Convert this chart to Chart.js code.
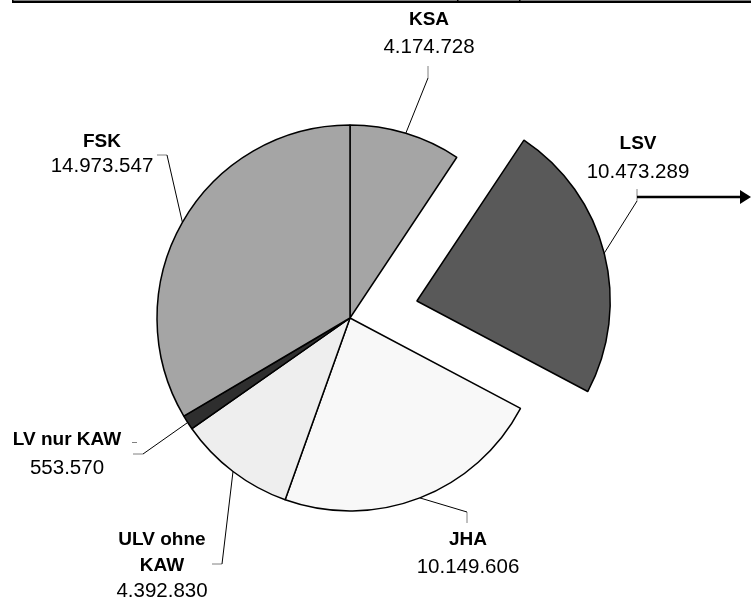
<!DOCTYPE html>
<html>
<head>
<meta charset="utf-8">
<script src="https://cdn.jsdelivr.net/npm/chart.js@4.4.0/dist/chart.umd.min.js"></script>
<style>
  html, body { margin: 0; padding: 0; background: #fff; }
  canvas { display: block; }
</style>
</head>
<body>
<canvas id="pie" width="751" height="601"></canvas>
<script>
// data
const categories = ['KSA', 'LSV', 'JHA', 'ULV ohne KAW', 'LV nur KAW', 'FSK'];
const values = [4174728, 10473289, 10149606, 4392830, 553570, 14973547];
const sliceColors = ['#a5a5a5', '#595959', '#f8f8f8', '#eeeeee', '#2e2e2e', '#a5a5a5'];
const explode = [0, 69, 0, 0, 0, 0]; // px the slice is pulled out

// label layout: text lines, text centre, leader elbow points (from label to pie)
const labelLayout = [
  { lines: ['KSA'], x: 429, y: 20, numY: 47.5, tick: [[428, 66], [428, 78]] },
  { lines: ['LSV'], x: 638, y: 144, numY: 172, tick: [[637, 189], [637, 201]] },
  { lines: ['JHA'], x: 468, y: 540, numY: 567.5, tick: [[467, 523], [467, 512]] },
  { lines: ['ULV ohne', 'KAW'], x: 162, y: 539.5, numY: 591, tick: [[212, 564], [222, 564]] },
  { lines: ['LV nur KAW'], x: 67, y: 440, numY: 468, tick: [[133, 454], [143, 454]] },
  { lines: ['FSK'], x: 102, y: 141.5, numY: 166.5, tick: [[157, 155], [167, 155]] }
];

const fmt = v => v.toString().replace(/\B(?=(\d{3})+(?!\d))/g, '.');

const labelPlugin = {
  id: 'labels',
  afterDraw(c) {
    const ctx = c.ctx;
    const meta = c.getDatasetMeta(0);
    ctx.save();

    // cut off frame at the top
    ctx.fillStyle = '#000';
    ctx.fillRect(12, 0.5, 739, 2.5);
    ctx.fillRect(12, 0, 1.5, 3);
    ctx.fillRect(457, 0, 1.5, 3);
    ctx.fillRect(519, 0, 1.5, 3);

    meta.data.forEach((arc, i) => {
      const p = arc.getProps(['x', 'y', 'startAngle', 'endAngle', 'outerRadius'], true);
      const mid = (p.startAngle + p.endAngle) / 2;
      const r = p.outerRadius + explode[i];
      const ax = p.x + Math.cos(mid) * r;
      const ay = p.y + Math.sin(mid) * r;
      const lay = labelLayout[i];

      // grey tick
      ctx.strokeStyle = '#808080';
      ctx.lineWidth = 1;
      ctx.beginPath();
      ctx.moveTo(lay.tick[0][0], lay.tick[0][1]);
      ctx.lineTo(lay.tick[1][0], lay.tick[1][1]);
      ctx.stroke();

      // leader to the arc
      ctx.strokeStyle = '#000';
      ctx.beginPath();
      ctx.moveTo(lay.tick[1][0], lay.tick[1][1]);
      ctx.lineTo(ax, ay);
      ctx.stroke();

      ctx.fillStyle = '#000';
      ctx.textAlign = 'center';
      ctx.textBaseline = 'middle';
      ctx.font = 'bold 19px "Liberation Sans", Arial, sans-serif';
      lay.lines.forEach((t, k) => ctx.fillText(t, lay.x, lay.y + k * 26));
      ctx.font = '20.5px "Liberation Sans", Arial, sans-serif';
      ctx.fillText(fmt(values[i]), lay.x, lay.numY);
    });

    // small dash after "LV nur KAW"
    ctx.strokeStyle = '#808080';
    ctx.beginPath();
    ctx.moveTo(132, 442.5);
    ctx.lineTo(137, 442.5);
    ctx.stroke();

    // arrow from LSV label
    ctx.strokeStyle = '#000';
    ctx.lineWidth = 2.5;
    ctx.beginPath();
    ctx.moveTo(637, 197);
    ctx.lineTo(742, 197);
    ctx.stroke();
    ctx.beginPath();
    ctx.moveTo(740, 190);
    ctx.lineTo(751, 197);
    ctx.lineTo(740, 204);
    ctx.closePath();
    ctx.fill();

    ctx.restore();
  }
};

new Chart(document.getElementById('pie'), {
  type: 'pie',
  data: {
    labels: categories,
    datasets: [{
      data: values,
      backgroundColor: sliceColors,
      borderColor: '#000',
      borderWidth: 1.5,
      // Chart.js v4 moves an arc by offset / 4
      offset: explode.map(o => o * 4),
      hoverOffset: 0
    }]
  },
  options: {
    responsive: false,
    animation: false,
    radius: 193,
    rotation: 0,
    layout: { padding: { left: 0, right: 51, top: 35, bottom: 0 } },
    plugins: {
      legend: { display: false },
      tooltip: { enabled: false }
    },
    events: []
  },
  plugins: [labelPlugin]
});
</script>
</body>
</html>
